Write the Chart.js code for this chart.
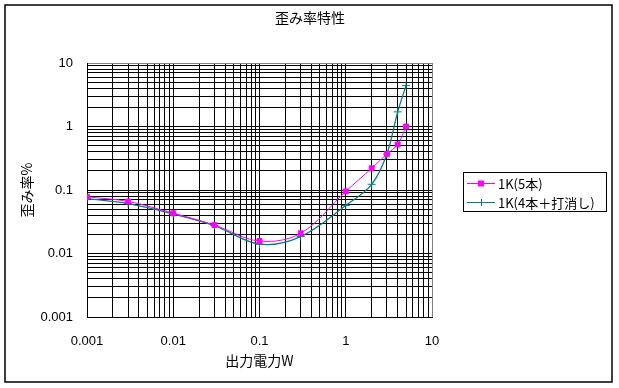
<!DOCTYPE html>
<html>
<head>
<meta charset="utf-8">
<script src="https://cdn.jsdelivr.net/npm/chart.js@4/dist/chart.umd.min.js"></script>
<style>
html,body{margin:0;padding:0;background:#fff;}
#wrap{width:619px;height:388px;position:relative;}
</style>
</head>
<body>
<div id="wrap"><canvas id="c" width="619" height="388"></canvas></div>
<script>
// ---- data ----
const chartTitle = '歪み率特性';
const xTitle = '出力電力W';
const yTitle = '歪み率%';
const powerW = [0.001, 0.003, 0.01, 0.03, 0.1, 0.3, 1, 2, 3, 4, 5];
const series1Name = '1K(5本)';
const series1 = [0.078, 0.066, 0.043, 0.028, 0.0157, 0.0208, 0.095, 0.22, 0.37, 0.52, 1.0];
const series2Name = '1K(4本＋打消し)';
const series2 = [0.073, 0.061, 0.042, 0.0275, 0.014, 0.0185, 0.057, 0.123, 0.37, 1.7, 4.4];
const decadeValues = [0.001, 0.01, 0.1, 1, 10];
const decadeLabels = ['0.001', '0.01', '0.1', '1', '10'];
const minorSteps = [1, 2, 3, 4, 5, 6, 7, 8, 9];

const CJK = '"Noto Sans CJK JP", "Liberation Sans", sans-serif';
const NUM = '"Liberation Sans", Arial, sans-serif';

function logTicks(scale) {
  const t = [];
  for (let i = 0; i < decadeValues.length - 1; i++) {
    for (const m of minorSteps) t.push({ value: +(decadeValues[i] * m).toPrecision(6) });
  }
  t.push({ value: decadeValues[decadeValues.length - 1] });
  scale.ticks = t;
}
function decadeLabel(v) {
  for (let i = 0; i < decadeValues.length; i++) {
    if (Math.abs(v - decadeValues[i]) < decadeValues[i] * 1e-6) return decadeLabels[i];
  }
  return '';
}
function gridColor(ctx) {
  if (ctx.tick && Math.abs(ctx.tick.value - 10) < 1e-9) return '#808080';
  return '#000000';
}

const frame = {
  id: 'frame',
  beforeDraw(chart) {
    const c = chart.ctx;
    c.save();
    c.fillStyle = '#fff';
    c.fillRect(0, 0, chart.width, chart.height);
    c.restore();
  },
  afterDraw(chart) {
    const c = chart.ctx;
    c.save();
    // outer border
    c.strokeStyle = '#000';
    c.lineWidth = 1.5;
    c.strokeRect(5, 5, 607, 377);
    // title
    c.fillStyle = '#000';
    c.font = '14px ' + CJK;
    c.textAlign = 'center';
    c.textBaseline = 'middle';
    c.fillText(chartTitle, 310, 18);
    // legend
    c.lineWidth = 1;
    c.strokeRect(463.5, 172.5, 143, 39);
    const rows = [183, 202];
    chart.data.datasets.forEach((ds, i) => {
      const y = rows[i];
      c.strokeStyle = ds.borderColor;
      c.lineWidth = 1;
      c.beginPath();
      c.moveTo(467, y + 0.5);
      c.lineTo(495, y + 0.5);
      c.stroke();
      const mx = 481;
      if (ds.pointStyle === 'rect') {
        c.fillStyle = ds.pointBackgroundColor;
        c.fillRect(mx - 3, y - 2.5, 6, 6);
      } else {
        c.beginPath();
        c.moveTo(mx - 3.5, y + 0.5); c.lineTo(mx + 3.5, y + 0.5);
        c.moveTo(mx + 0.5, y - 3); c.lineTo(mx + 0.5, y + 4);
        c.stroke();
      }
      c.fillStyle = '#000';
      c.font = '13px ' + CJK;
      c.textAlign = 'left';
      c.textBaseline = 'middle';
      c.fillText(ds.label, 498, y + 1);
    });
    c.restore();
  }
};

new Chart(document.getElementById('c'), {
  type: 'line',
  data: {
    datasets: [
      {
        label: series1Name,
        data: powerW.map((x, i) => ({ x, y: series1[i] })),
        borderColor: '#FF00FF',
        backgroundColor: '#FF00FF',
        pointBackgroundColor: '#FF00FF',
        pointBorderColor: '#FF00FF',
        pointStyle: 'rect',
        pointRadius: 3.5,
        borderWidth: 1,
        tension: 0.35,
        fill: false
      },
      {
        label: series2Name,
        data: powerW.map((x, i) => ({ x, y: series2[i] })),
        borderColor: '#008080',
        backgroundColor: '#008080',
        pointBackgroundColor: '#008080',
        pointBorderColor: '#008080',
        pointStyle: 'cross',
        pointRadius: 4,
        pointBorderWidth: 1,
        borderWidth: 1.3,
        tension: 0.35,
        fill: false
      }
    ]
  },
  options: {
    responsive: false,
    animation: false,
    layout: { padding: { left: 10, top: 63, right: 187, bottom: 19 } },
    plugins: { legend: { display: false }, title: { display: false }, tooltip: { enabled: false } },
    elements: { point: { hoverRadius: 0 } },
    scales: {
      x: {
        type: 'logarithmic',
        min: 0.001, max: 10,
        afterBuildTicks: logTicks,
        afterFit(s) { s.height = 52; },
        grid: { color: gridColor, lineWidth: 1, drawTicks: false },
        border: { display: true, color: '#000', width: 1 },
        ticks: {
          autoSkip: false, maxRotation: 0, padding: 17,
          color: '#000', font: { family: NUM, size: 13 },
          callback: (v) => decadeLabel(v)
        },
        title: { display: true, text: xTitle, color: '#000', font: { family: CJK, size: 14 }, padding: { top: 0, bottom: 0 } }
      },
      y: {
        type: 'logarithmic',
        min: 0.001, max: 10,
        afterBuildTicks: logTicks,
        afterFit(s) { s.width = 77; },
        grid: { color: gridColor, lineWidth: 1, drawTicks: false },
        border: { display: true, color: '#000', width: 1 },
        ticks: {
          autoSkip: false, padding: 14,
          color: '#000', font: { family: NUM, size: 13 },
          callback: (v) => decadeLabel(v)
        },
        title: { display: true, text: yTitle, color: '#000', font: { family: CJK, size: 14 }, padding: { top: 8, bottom: 0 } }
      }
    }
  },
  plugins: [frame]
});
</script>
</body>
</html>
